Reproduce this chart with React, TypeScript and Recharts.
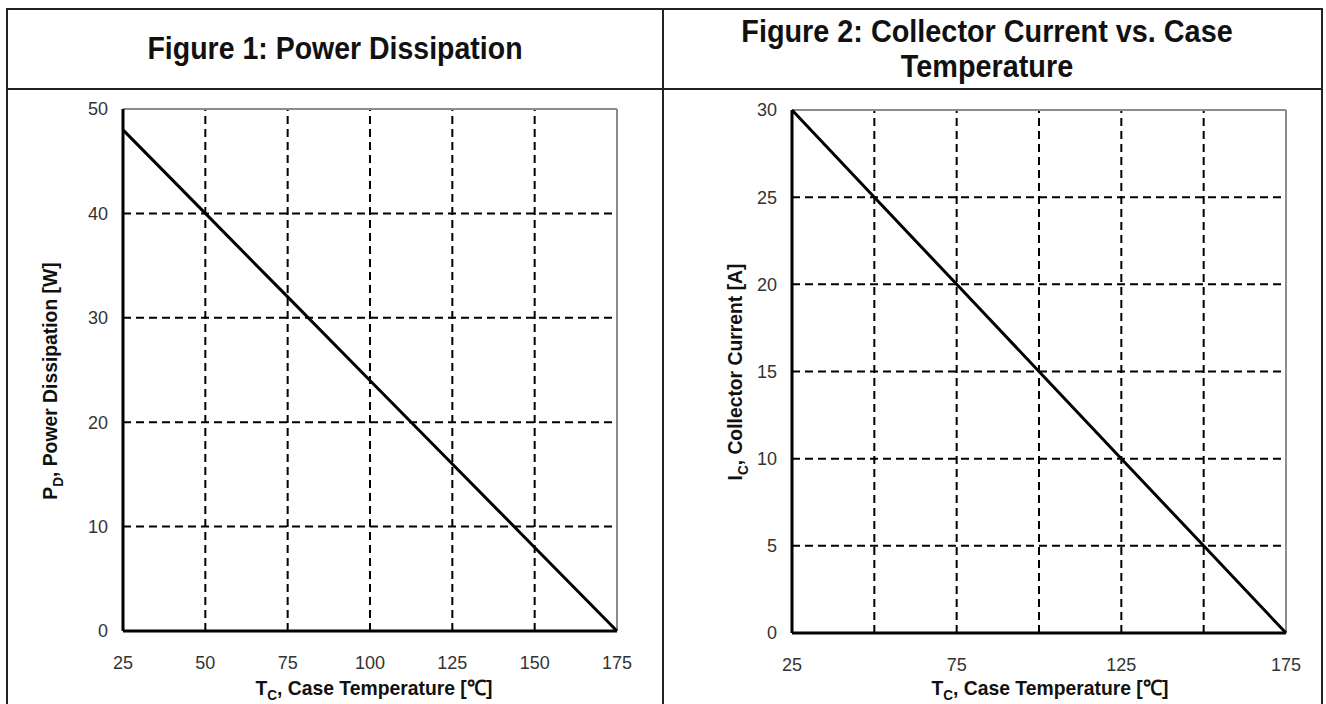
import { LineChart, Line, XAxis, YAxis, ReferenceLine } from 'recharts'

const temps = [25, 50, 75, 100, 125, 150, 175]
const powerW = [48, 40, 32, 24, 16, 8, 0]
const currentA = [30, 25, 20, 15, 10, 5, 0]
const powerTicks = [0, 10, 20, 30, 40, 50]
const currentTicks = [0, 5, 10, 15, 20, 25, 30]
const fig1XLabels = [25, 50, 75, 100, 125, 150, 175]
const fig2XLabels = [25, 75, 125, 175]

const titleFont = "'Liberation Sans', Arial, sans-serif"
const tickFont = "'Liberation Sans', Arial, sans-serif"

type PanelProps = {
	values: number[]
	yTicks: number[]
	xLabels: number[]
	left: number
	width: number
	margin: { top: number; right: number; bottom: number; left: number }
}

function Panel({ values, yTicks, xLabels, left, width, margin }: PanelProps) {
	const data = temps.map((t, i) => ({ temp: t, value: values[i] }))
	const xMin = temps[0]
	const xMax = temps[temps.length - 1]
	const yMax = yTicks[yTicks.length - 1]
	const tickStyle = { fill: '#333', fontSize: 18, fontFamily: tickFont }
	return (
		<div style={{ position: 'absolute', left, top: 0 }}>
			<LineChart width={width} height={704} data={data} margin={margin}>
				<XAxis
					dataKey='temp'
					type='number'
					domain={[xMin, xMax]}
					ticks={temps}
					tickFormatter={(v: number) => (xLabels.includes(v) ? String(v) : '')}
					tickLine={false}
					tickSize={0}
					tickMargin={25}
					height={40}
					axisLine={{ stroke: '#000', strokeWidth: 3 }}
					tick={tickStyle}
				/>
				<YAxis
					type='number'
					domain={[0, yMax]}
					ticks={yTicks}
					tickLine={false}
					tickSize={0}
					tickMargin={15}
					width={60}
					axisLine={{ stroke: '#000', strokeWidth: 3 }}
					tick={tickStyle}
				/>
				{temps.slice(1, -1).map((t) => (
					<ReferenceLine key={'x' + t} x={t} stroke='#000' strokeWidth={2} strokeDasharray='8 5' />
				))}
				{yTicks.slice(1, -1).map((v) => (
					<ReferenceLine key={'y' + v} y={v} stroke='#000' strokeWidth={2} strokeDasharray='8 5' />
				))}
				<ReferenceLine y={yMax} stroke='#8c8c8c' strokeWidth={2} />
				<ReferenceLine x={xMax} stroke='#8c8c8c' strokeWidth={2} />
				<Line
					type='linear'
					dataKey='value'
					stroke='#000'
					strokeWidth={3}
					dot={false}
					isAnimationActive={false}
				/>
			</LineChart>
		</div>
	)
}

const sub = { fontSize: '0.7em', verticalAlign: 'sub' as const }

function XTitle({ cx }: { cx: number }) {
	return (
		<div
			style={{
				position: 'absolute',
				left: cx,
				top: 688,
				transform: 'translate(-50%, -50%) scaleX(0.92)',
				whiteSpace: 'nowrap',
				fontFamily: titleFont,
				fontWeight: 'bold',
				fontSize: 21,
				color: '#111'
			}}
		>
			T<span style={sub}>C</span>, Case Temperature [℃]
		</div>
	)
}

function YTitle({ cx, cy, sym, symSub, text }: { cx: number; cy: number; sym: string; symSub: string; text: string }) {
	return (
		<div
			style={{
				position: 'absolute',
				left: cx,
				top: cy,
				transform: 'translate(-50%, -50%) rotate(-90deg) scaleX(0.92)',
				whiteSpace: 'nowrap',
				fontFamily: titleFont,
				fontWeight: 'bold',
				fontSize: 21,
				color: '#111'
			}}
		>
			{sym}
			<span style={sub}>{symSub}</span>, {text}
		</div>
	)
}

export default function App() {
	const line = '#222'
	return (
		<div style={{ position: 'absolute', left: 0, top: 0, width: 1326, height: 704, background: '#fff', overflow: 'hidden' }}>
			<Panel
				values={powerW}
				yTicks={powerTicks}
				xLabels={fig1XLabels}
				left={0}
				width={662}
				margin={{ top: 109, right: 45, bottom: 33, left: 63 }}
			/>
			<Panel
				values={currentA}
				yTicks={currentTicks}
				xLabels={fig2XLabels}
				left={662}
				width={664}
				margin={{ top: 110, right: 40, bottom: 31, left: 70 }}
			/>
			{/* table borders */}
			<div style={{ position: 'absolute', left: 6, top: 8, width: 1317, height: 2, background: line }} />
			<div style={{ position: 'absolute', left: 6, top: 88, width: 1317, height: 2, background: line }} />
			<div style={{ position: 'absolute', left: 6, top: 8, width: 2, height: 700, background: line }} />
			<div style={{ position: 'absolute', left: 662, top: 8, width: 2, height: 700, background: line }} />
			<div style={{ position: 'absolute', left: 1321, top: 8, width: 2, height: 700, background: line }} />
			{/* titles */}
			<div
				style={{
					position: 'absolute',
					left: 335,
					top: 48,
					transform: 'translate(-50%, -50%) scaleX(0.89)',
					whiteSpace: 'nowrap',
					fontFamily: titleFont,
					fontWeight: 'bold',
					fontSize: 32,
					color: '#111'
				}}
			>
				Figure 1: Power Dissipation
			</div>
			<div
				style={{
					position: 'absolute',
					left: 987,
					top: 49,
					transform: 'translate(-50%, -50%) scaleX(0.9)',
					textAlign: 'center',
					whiteSpace: 'nowrap',
					fontFamily: titleFont,
					fontWeight: 'bold',
					fontSize: 32,
					lineHeight: '35px',
					color: '#111'
				}}
			>
				Figure 2: Collector Current vs. Case
				<br />
				Temperature
			</div>
			<XTitle cx={374} />
			<XTitle cx={1050} />
			<YTitle cx={52} cy={381} sym='P' symSub='D' text='Power Dissipation [W]' />
			<YTitle cx={737} cy={372} sym='I' symSub='C' text='Collector Current [A]' />
		</div>
	)
}
